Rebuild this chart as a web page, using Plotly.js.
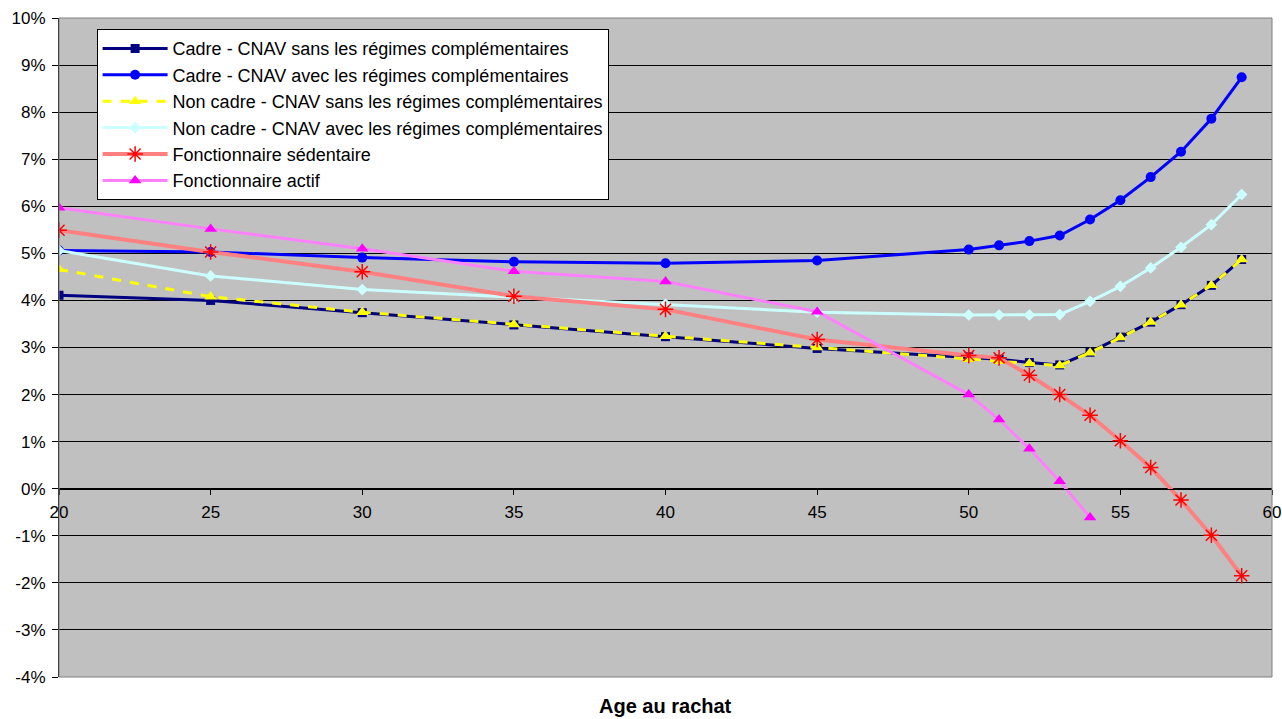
<!DOCTYPE html>
<html><head><meta charset="utf-8">
<script src="https://cdn.plot.ly/plotly-3.0.1.min.js"></script>
<style>html,body{margin:0;padding:0;background:#fff}#c{width:1282px;height:719px}</style>
</head><body><div id="c"></div>
<script>
const ages = [20,25,30,35,40,45,50,51,52,53,54,55,56,57,58,59];
const agesActif = [20,25,30,35,40,45,50,51,52,53,54];
const cadreSans = [4.11,4.00,3.74,3.48,3.23,2.98,2.80,2.75,2.68,2.63,2.90,3.22,3.54,3.91,4.32,4.87];
const cadreAvec = [5.06,5.03,4.91,4.82,4.79,4.85,5.08,5.17,5.26,5.38,5.72,6.13,6.62,7.16,7.86,8.74];
const nonCadreSans = [4.66,4.08,3.75,3.49,3.24,3.00,2.75,2.71,2.66,2.62,2.89,3.21,3.54,3.91,4.32,4.87];
const nonCadreAvec = [5.06,4.52,4.23,4.07,3.92,3.75,3.69,3.69,3.69,3.70,3.98,4.30,4.69,5.13,5.61,6.25];
const fonctSedentaire = [5.49,5.03,4.61,4.09,3.81,3.17,2.83,2.78,2.41,2.00,1.56,1.02,0.45,-0.24,-0.99,-1.85];
const fonctActif = [5.97,5.52,5.10,4.62,4.40,3.76,2.00,1.47,0.85,0.16,-0.61];
const names = ["Cadre - CNAV sans les régimes complémentaires","Cadre - CNAV avec les régimes complémentaires","Non cadre - CNAV sans les régimes complémentaires","Non cadre - CNAV avec les régimes complémentaires","Fonctionnaire sédentaire","Fonctionnaire actif"];
const yTicks = [-4,-3,-2,-1,0,1,2,3,4,5,6,7,8,9,10];
const xTicks = [20,25,30,35,40,45,50,55,60];

const traces = [
 {x:ages,y:cadreSans,name:names[0],mode:'lines+markers',line:{color:'#000080',width:3},marker:{symbol:'square',size:9,color:'#000080'}},
 {x:ages,y:cadreAvec,name:names[1],mode:'lines+markers',line:{color:'#0000FF',width:3},marker:{symbol:'circle',size:10,color:'#0000FF'}},
 {x:ages,y:nonCadreSans,name:names[2],mode:'lines+markers',line:{color:'#FFFF00',width:3,dash:'dash'},marker:{symbol:'triangle-up',size:11,color:'#FFFF00'}},
 {x:ages,y:nonCadreAvec,name:names[3],mode:'lines+markers',line:{color:'#CCFFFF',width:3},marker:{symbol:'diamond',size:9,color:'#CCFFFF'}},
 {x:ages,y:fonctSedentaire,name:names[4],mode:'lines+markers',line:{color:'#FF8080',width:4},marker:{symbol:'asterisk-open',size:13,color:'#FF0000',line:{color:'#FF0000',width:1.5}}},
 {x:agesActif,y:fonctActif,name:names[5],mode:'lines+markers',line:{color:'#FF80FF',width:3},marker:{symbol:'triangle-up',size:11,color:'#FF00FF'}}
];

const layout = {
 width:1282,height:719,
 margin:{l:59,r:10,t:18,b:42},
 paper_bgcolor:'#FFFFFF',plot_bgcolor:'#C0C0C0',
 font:{family:'Liberation Sans, Arial, sans-serif',size:17,color:'#000'},
 showlegend:true,
 legend:{x:0.031,y:0.983,xanchor:'left',yanchor:'top',bgcolor:'#FFFFFF',bordercolor:'#000',borderwidth:1,font:{size:18,family:'Liberation Sans, Arial, sans-serif'},tracegroupgap:0,itemwidth:65},
 xaxis:{range:[20,60],tickvals:xTicks,ticktext:xTicks.map(String),showgrid:false,zeroline:false,anchor:'free',position:4/14,showline:true,linecolor:'#000',linewidth:1,ticks:'outside',ticklen:5,tickcolor:'#000',tickfont:{size:17},ticklabelstandoff:3},
 yaxis:{range:[-4,10],tickvals:yTicks,ticktext:yTicks.map(v=>v+'%'),showgrid:true,gridcolor:'#000',gridwidth:1,zeroline:false,showline:true,linecolor:'#000',linewidth:1,ticks:'outside',ticklen:6,tickcolor:'#000',tickfont:{size:17},ticklabelstandoff:3},
 shapes:[{type:'rect',xref:'paper',yref:'paper',x0:0,x1:1,y0:0,y1:1,line:{color:'#808080',width:1}}],
 annotations:[{text:'<b>Age au rachat</b>',xref:'paper',yref:'paper',x:0.5,y:0,yshift:-29,xanchor:'center',yanchor:'middle',showarrow:false,font:{size:20}}]
};
Plotly.newPlot('c',traces,layout,{displayModeBar:false,staticPlot:true});
</script></body></html>
